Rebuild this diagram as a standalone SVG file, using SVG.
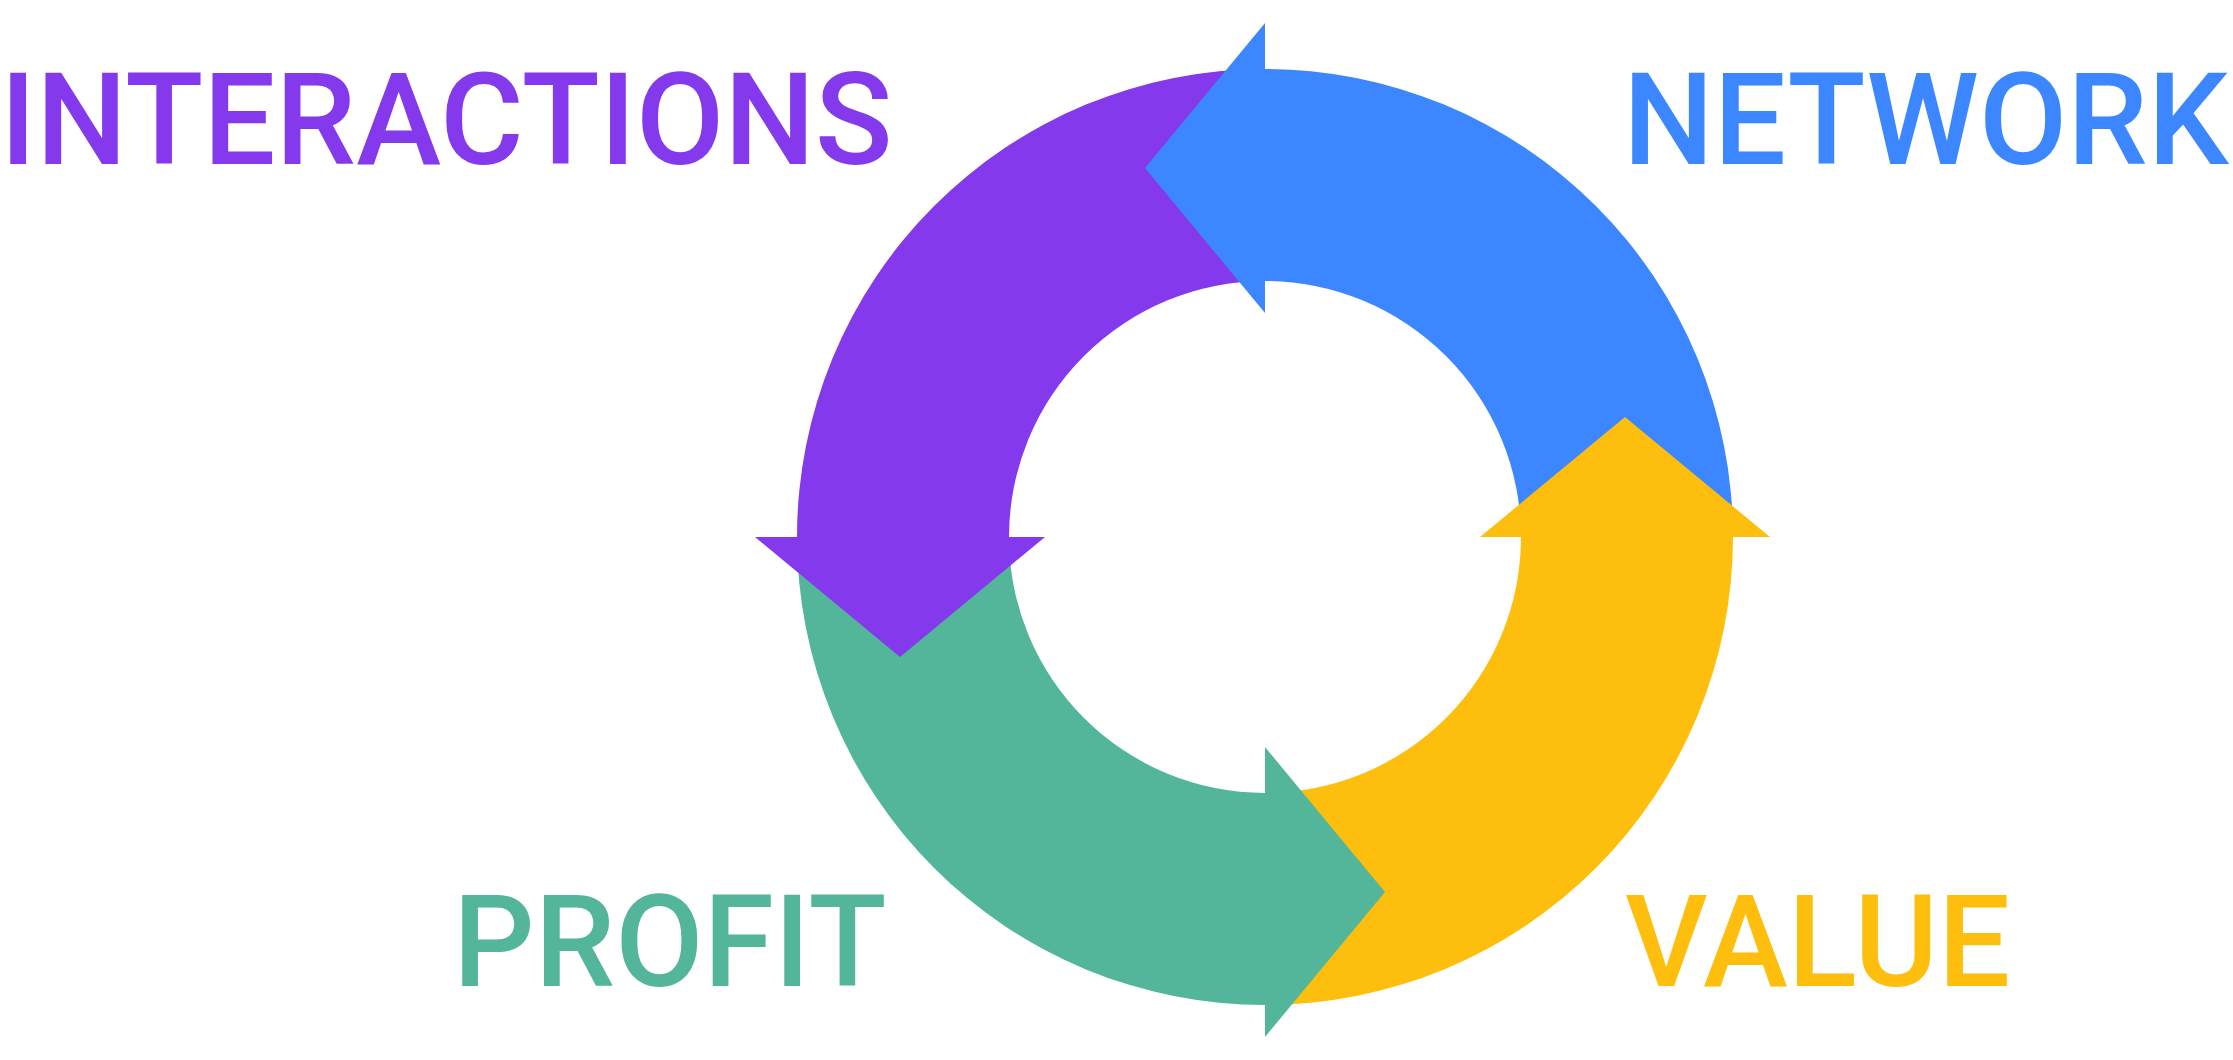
<svg xmlns="http://www.w3.org/2000/svg" width="2233" height="1060" viewBox="0 0 2233 1060">
<style>
.lbl{font-family:Roboto,"Liberation Sans",Arial,sans-serif;font-size:128px;font-weight:500}
.purple{fill:#8439EC}
.blue{fill:#3C87FF}
.green{fill:#53B69A}
.yellow{fill:#FEBE0D}
</style>
<rect width="2233" height="1060" fill="#FFFFFF"/>
<g id="connectors">
<path id="arc-network" class="blue" d="M 1733 537 A 468 468 0 0 0 1265 69 L 1261 69 L 1261 281 L 1265 281 A 256 256 0 0 1 1521 537 Z"/>
<path id="arc-interactions" class="purple" d="M 1265 69 A 468 468 0 0 0 797 537 L 797 541 L 1009 541 L 1009 537 A 256 256 0 0 1 1265 281 Z"/>
<path id="arc-profit" class="green" d="M 797 537 A 468 468 0 0 0 1265 1005 L 1269 1005 L 1269 793 L 1265 793 A 256 256 0 0 1 1009 537 Z"/>
<path id="arc-value" class="yellow" d="M 1265 1005 A 468 468 0 0 0 1733 537 L 1733 533 L 1521 533 L 1521 537 A 256 256 0 0 1 1265 793 Z"/>
<polygon id="head-network" class="blue" points="1265,23 1265,313 1145,168"/>
<polygon id="head-interactions" class="purple" points="755,537 1045,537 900,657"/>
<polygon id="head-profit" class="green" points="1265,747 1265,1037 1385,892"/>
<polygon id="head-value" class="yellow" points="1480,537 1770,537 1625,417"/>
</g>
<g id="node-interactions">
<text class="lbl purple" x="0" y="164">INTERACTIONS</text>
</g>
<g id="node-network">
<text class="lbl blue" x="1623" y="164">NETWORK</text>
</g>
<g id="node-profit">
<text class="lbl green" x="453" y="986">PROFIT</text>
</g>
<g id="node-value">
<text class="lbl yellow" x="1625" y="986">VALUE</text>
</g>
</svg>
